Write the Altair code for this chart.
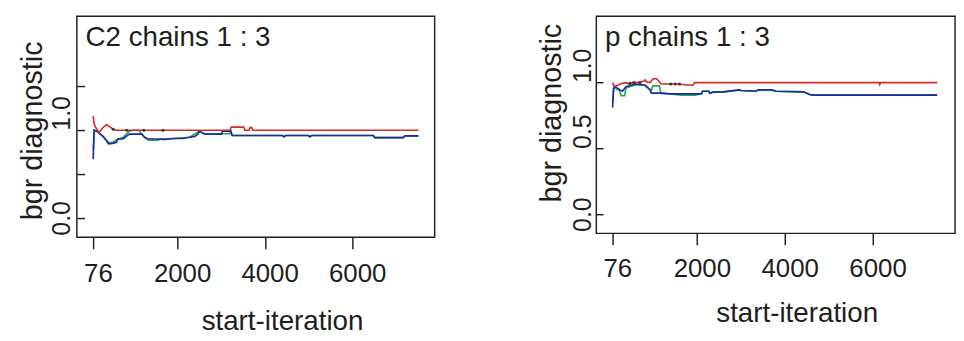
import altair as alt
import pandas as pd

FONT = "Liberation Sans"
TXT = "#1e1e1e"

# x axis ticks
x_ticks = [76, 2000, 4000, 6000]

# ---- panel 1 : C2 chains 1 : 3 ----
c2_title = "C2 chains 1 : 3"
c2_red_x = [76, 95, 135, 165, 207, 280, 382, 450, 535, 600, 3200, 3230, 3520, 3540, 3640, 3660, 3700, 3720, 7508]
c2_red_y = [1.16, 1.08, 1.03, 1.01, 0.97, 1.02, 1.065, 1.04, 1.01, 1.0, 1.0, 1.035, 1.035, 1.0, 1.0, 1.03, 1.03, 1.0, 1.0]
c2_blue_x = [76, 90, 98, 150, 207, 300, 380, 426, 520, 600, 644, 760, 900, 1000, 1190, 1250, 1337, 1500, 1700,
             1918, 2100, 2283, 2400, 2480, 2502, 2600, 2648, 3005, 3030, 3224, 3250, 4400, 4430, 4480, 5000,
             5020, 5080, 6480, 6507, 7160, 7200, 7508]
c2_blue_y = [0.67, 0.85, 1.0, 0.99, 0.97, 0.93, 0.88, 0.845, 0.85, 0.86, 0.90, 0.90, 0.955, 0.955, 0.955, 0.92,
             0.90, 0.90, 0.895, 0.905, 0.905, 0.92, 0.93, 0.96, 0.99, 0.96, 0.955, 0.955, 0.99, 0.99, 0.94, 0.94,
             0.925, 0.94, 0.94, 0.925, 0.94, 0.94, 0.915, 0.915, 0.935, 0.935]
c2_green_x = [76, 90, 98, 150, 207, 300, 426, 520, 644, 760, 900, 1000, 1117, 1190, 1250, 1340, 1560, 1600, 1700,
              1918, 2283, 2502, 2648, 3005, 3050, 3200, 3224, 3250, 4400, 4430, 4480, 5000, 5020, 5080, 6480,
              6507, 7160, 7200, 7508]
c2_green_y = [0.78, 0.9, 1.0, 0.99, 0.97, 0.93, 0.86, 0.86, 0.90, 0.92, 0.99, 1.0, 1.0, 0.955, 0.92, 0.885, 0.885,
              0.90, 0.895, 0.905, 0.92, 0.99, 0.955, 0.955, 0.96, 0.96, 0.99, 0.94, 0.94, 0.925, 0.94, 0.94, 0.925,
              0.94, 0.94, 0.915, 0.915, 0.935, 0.935]
c2_black_x = [535, 841, 1235, 1672]
c2_black_y = [1.01, 1.0, 1.0, 1.0]
c2_y_ticks = [0, 0.5, 1.0, 1.5]

# ---- panel 2 : p chains 1 : 3 ----
p_title = "p chains 1 : 3"
p_red_x = [76, 100, 127, 278, 381, 450, 568, 650, 786, 816, 850, 932, 997, 1077, 1105, 1180, 1513, 1876, 1905,
           1942, 6140, 6158, 6176, 7465]
p_red_y = [1.0, 0.98, 0.97, 0.993, 1.0, 0.99, 1.005, 1.0, 1.012, 1.02, 1.005, 1.0, 1.03, 1.03, 1.02, 0.99, 0.99,
           0.98, 0.98, 1.0, 1.0, 0.985, 1.0, 1.0]
p_blue_x = [76, 100, 130, 235, 300, 381, 598, 816, 925, 960, 1180, 1367, 2100, 2123, 2268, 2290, 2383, 2600, 2965,
            3000, 3328, 3400, 3691, 3800, 4416, 4500, 4561, 4634, 7465]
p_blue_y = [0.81, 0.96, 0.97, 0.947, 0.935, 0.97, 0.99, 0.98, 0.947, 0.92, 0.92, 0.915, 0.915, 0.935, 0.935, 0.92,
            0.93, 0.93, 0.945, 0.94, 0.935, 0.945, 0.945, 0.935, 0.93, 0.92, 0.91, 0.905, 0.905]
p_green_x = [76, 100, 130, 235, 270, 350, 381, 598, 816, 925, 960, 990, 1140, 1180, 1367, 1660, 1950, 2100, 2123,
             2268, 2290, 2383, 2600, 2965, 3000, 3328, 3400, 3691, 3800, 4416, 4500, 4561, 4634, 7465]
p_green_y = [0.85, 0.95, 0.96, 0.94, 0.90, 0.90, 0.96, 0.985, 0.98, 0.95, 0.94, 0.975, 0.975, 0.92, 0.915, 0.905,
             0.905, 0.915, 0.935, 0.935, 0.92, 0.93, 0.93, 0.945, 0.94, 0.935, 0.945, 0.945, 0.935, 0.93, 0.92,
             0.91, 0.905, 0.905]
p_black_x = [470, 560, 700, 1400, 1500, 1600]
p_black_y = [0.995, 1.0, 1.0, 0.99, 0.99, 0.99]
p_y_ticks = [0, 0.5, 1.0]

COLORS = {"green": "#25a845", "blue": "#1c2aa6", "red": "#d42a2a"}


def to_df(series):
    rows = []
    for name, (xs, ys) in series.items():
        for i, (a, b) in enumerate(zip(xs, ys)):
            rows.append({"series": name, "x": a, "y": b, "order": i})
    return pd.DataFrame(rows)


def panel(df, title, width, height, xdom, ydom, yticks, label_expr, ylab_pad, tick_in,
          xtitle_x, xtitle_y, ytitle_y, xlab_pad):
    xscale = alt.Scale(domain=xdom, nice=False, zero=False)
    yscale = alt.Scale(domain=ydom, nice=False, zero=False)
    main_x = alt.Axis(values=x_ticks, format="d", tickSize=12, tickWidth=1.5, tickColor=TXT,
                      labelPadding=xlab_pad, labelBaseline="alphabetic", labelFont=FONT, labelFontSize=27,
                      labelColor=TXT, labelOffset=5, labelFlush=False, labelOverlap=False,
                      domain=False, grid=False,
                      title="start-iteration", titleFont=FONT, titleFontSize=29, titleFontWeight="normal",
                      titleColor=TXT, titleX=xtitle_x, titleY=xtitle_y, titleAlign="center",
                      titleBaseline="alphabetic")
    main_y = alt.Axis(values=yticks, ticks=False, tickSize=0, labelPadding=ylab_pad, labelAngle=270,
                      labelAlign={"condition": {"test": "datum.value == 0", "value": "center"}, "value": "left"},
                      labelBaseline="alphabetic", labelExpr=label_expr, labelFont=FONT, labelFontSize=26,
                      labelColor=TXT, labelFlush=False, labelOverlap=False,
                      domain=False, grid=False,
                      title="bgr diagnostic", titleFont=FONT, titleFontSize=30, titleFontWeight="normal",
                      titleColor=TXT, titleAngle=270, titleX=-37, titleY=ytitle_y, titleAlign="center",
                      titleBaseline="alphabetic")
    base = alt.Chart(df)
    layers = []
    for s in ["green", "blue", "red"]:
        is_main = s == "red"
        layers.append(
            base.transform_filter(alt.datum.series == s)
            .mark_line(color=COLORS[s], strokeWidth=1.7)
            .encode(
                x=alt.X("x:Q", scale=xscale, axis=main_x if is_main else None),
                y=alt.Y("y:Q", scale=yscale, axis=main_y if is_main else None),
                order="order:Q",
            )
        )
    layers.append(
        base.transform_filter(alt.datum.series == "black")
        .mark_point(filled=True, size=10, color="#2a2a2a", opacity=0.9)
        .encode(x=alt.X("x:Q", scale=xscale, axis=None), y=alt.Y("y:Q", scale=yscale, axis=None))
    )
    inner_ticks = alt.Axis(values=yticks, orient="left", offset=-tick_in, tickSize=tick_in, tickWidth=1.5,
                           tickColor=TXT, labels=False, domain=False, title=None, grid=False)
    layers.append(
        base.transform_filter(alt.datum.series == "red")
        .mark_line(opacity=0)
        .encode(x=alt.X("x:Q", scale=xscale, axis=None),
                y=alt.Y("y:Q", scale=yscale, axis=inner_ticks),
                order="order:Q")
    )
    layers.append(
        alt.Chart(pd.DataFrame({"t": [title]}))
        .mark_text(align="left", baseline="alphabetic", font=FONT, fontSize=29, color=TXT)
        .encode(x=alt.value(9), y=alt.value(31), text="t:N")
    )
    return alt.layer(*layers).resolve_axis(x="independent", y="independent").properties(
        width=width, height=height)


df1 = to_df({"green": (c2_green_x, c2_green_y), "blue": (c2_blue_x, c2_blue_y), "red": (c2_red_x, c2_red_y),
             "black": (c2_black_x, c2_black_y)})
df2 = to_df({"green": (p_green_x, p_green_y), "blue": (p_blue_x, p_blue_y), "red": (p_red_x, p_red_y),
             "black": (p_black_x, p_black_y)})

left = panel(df1, c2_title, 374, 231, [-296, 7880], [-0.22, 2.30], c2_y_ticks,
             "(datum.value == 0 || datum.value == 1) ? format(datum.value, '.1f') : ''",
             8, 8, 214.5, 96, 119.3, 34)
right = panel(df2, p_title, 375, 227, [-294, 7872], [-0.146, 1.505], p_y_ticks,
              "format(datum.value, '.1f')", 6, 7, 209.5, 92, 100.8, 33)

chart = (
    alt.hconcat(left, right, spacing=106)
    .properties(padding={"left": 10, "top": 0, "right": 0, "bottom": 0}, background="white")
    .configure_view(stroke=TXT, strokeWidth=1.5)
)

chart.save("out.html", embed_options={"renderer": "svg", "actions": False})
